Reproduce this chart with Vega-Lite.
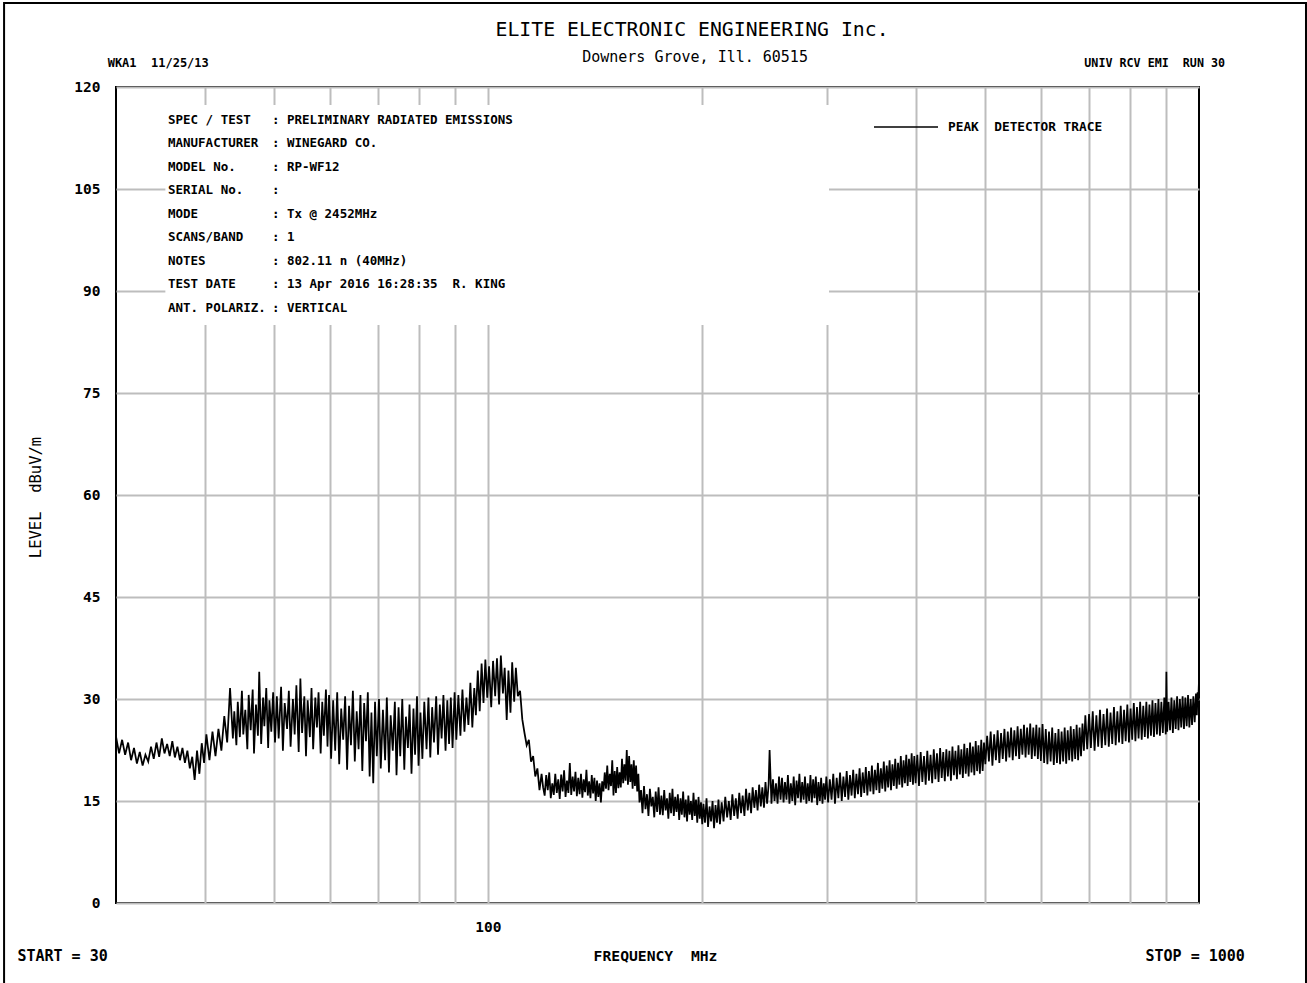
{
  "$schema": "https://vega.github.io/schema/vega-lite/v6.json",
  "width": 1083,
  "height": 816,
  "autosize": {"type": "none"},
  "padding": {"left": 116, "top": 87, "right": 108, "bottom": 80},
  "background": "white",
  "config": {
    "view": {"stroke": "black", "strokeWidth": 2},
    "font": "DejaVu Sans Mono"
  },
  "datasets": {
    "trace": [
      {"f":30.0,"v":24.5},{"f":30.3,"v":22.0},{"f":30.6,"v":24.0},{"f":30.9,"v":21.8},{"f":31.2,"v":23.6},{"f":31.5,"v":21.0},{"f":31.8,"v":22.8},{"f":32.1,"v":20.5},{"f":32.4,"v":22.2},{"f":32.7,"v":20.2},
      {"f":33.0,"v":21.8},{"f":33.3,"v":20.8},{"f":33.6,"v":23.0},{"f":33.9,"v":21.2},{"f":34.2,"v":23.6},{"f":34.5,"v":21.5},{"f":34.8,"v":24.2},{"f":35.1,"v":22.0},{"f":35.4,"v":23.4},{"f":35.7,"v":21.6},
      {"f":36.0,"v":23.8},{"f":36.3,"v":21.4},{"f":36.6,"v":23.0},{"f":36.9,"v":21.0},{"f":37.2,"v":22.8},{"f":37.5,"v":20.6},{"f":37.8,"v":22.4},{"f":38.1,"v":19.8},{"f":38.4,"v":21.5},{"f":38.7,"v":18.1},
      {"f":39.0,"v":22.4},{"f":39.3,"v":19.0},{"f":39.6,"v":23.5},{"f":39.9,"v":20.6},
      {"f":40.2,"v":24.8},{"f":40.6,"v":21.0},{"f":41.0,"v":25.2},{"f":41.4,"v":21.6},{"f":41.8,"v":25.6},{"f":42.2,"v":22.4},{"f":42.6,"v":27.5},{"f":43.0,"v":23.6},{"f":43.4,"v":31.6},{"f":43.8,"v":24.2},
      {"f":44.0,"v":28.2},{"f":44.3,"v":23.2},{"f":44.5,"v":29.6},{"f":44.8,"v":24.4},{"f":45.1,"v":31.2},{"f":45.3,"v":24.8},{"f":45.6,"v":28.4},{"f":45.9,"v":22.6},{"f":46.1,"v":30.6},{"f":46.4,"v":25.4},
      {"f":46.7,"v":31.4},{"f":46.9,"v":22.0},{"f":47.2,"v":29.2},{"f":47.5,"v":24.6},{"f":47.7,"v":34.0},{"f":48.0,"v":23.4},{"f":48.3,"v":30.2},{"f":48.5,"v":26.0},{"f":48.8,"v":31.6},{"f":49.1,"v":22.8},
      {"f":49.3,"v":29.8},{"f":49.6,"v":25.2},{"f":49.9,"v":31.0},
      {"f":50.2,"v":23.6},{"f":50.5,"v":30.4},{"f":50.8,"v":24.2},{"f":51.2,"v":31.8},{"f":51.5,"v":22.4},{"f":51.8,"v":29.4},{"f":52.2,"v":25.6},{"f":52.5,"v":31.2},{"f":52.8,"v":23.0},{"f":53.2,"v":30.0},
      {"f":53.5,"v":24.8},{"f":53.8,"v":32.0},{"f":54.2,"v":22.2},{"f":54.5,"v":33.0},{"f":54.8,"v":25.0},{"f":55.2,"v":30.4},{"f":55.5,"v":21.6},{"f":55.8,"v":29.8},{"f":56.2,"v":24.4},{"f":56.5,"v":31.6},
      {"f":56.8,"v":22.6},{"f":57.2,"v":30.2},{"f":57.5,"v":25.8},{"f":57.8,"v":31.0},{"f":58.2,"v":22.0},{"f":58.5,"v":29.6},{"f":58.8,"v":24.6},{"f":59.2,"v":31.4},{"f":59.5,"v":23.0},{"f":59.8,"v":30.6},
      {"f":60.2,"v":21.2},{"f":60.6,"v":29.8},{"f":61.0,"v":22.4},{"f":61.4,"v":31.0},{"f":61.8,"v":20.4},{"f":62.2,"v":28.6},{"f":62.6,"v":24.0},{"f":63.0,"v":30.4},{"f":63.4,"v":19.6},{"f":63.8,"v":29.0},
      {"f":64.2,"v":23.2},{"f":64.6,"v":31.2},{"f":65.0,"v":20.8},{"f":65.4,"v":28.2},{"f":65.8,"v":22.6},{"f":66.2,"v":30.6},{"f":66.6,"v":19.4},{"f":67.0,"v":29.4},{"f":67.4,"v":23.8},{"f":67.8,"v":31.0},
      {"f":68.2,"v":18.6},{"f":68.6,"v":28.0},{"f":69.0,"v":17.6},{"f":69.4,"v":29.6},{"f":69.8,"v":21.6},
      {"f":70.3,"v":30.0},{"f":70.7,"v":19.8},{"f":71.2,"v":28.4},{"f":71.7,"v":21.0},{"f":72.1,"v":30.2},{"f":72.6,"v":19.2},{"f":73.0,"v":27.6},{"f":73.5,"v":22.4},{"f":74.0,"v":29.6},{"f":74.4,"v":18.8},
      {"f":74.9,"v":28.8},{"f":75.3,"v":21.6},{"f":75.8,"v":30.0},{"f":76.3,"v":19.6},{"f":76.7,"v":27.4},{"f":77.2,"v":22.8},{"f":77.6,"v":29.2},{"f":78.1,"v":19.0},{"f":78.6,"v":28.6},{"f":79.0,"v":21.8},
      {"f":79.5,"v":30.4},{"f":79.9,"v":20.2},
      {"f":80.4,"v":28.0},{"f":80.9,"v":21.2},{"f":81.4,"v":29.6},{"f":82.0,"v":22.6},{"f":82.5,"v":30.2},{"f":83.0,"v":21.4},{"f":83.5,"v":28.8},{"f":84.0,"v":23.6},{"f":84.6,"v":30.4},{"f":85.1,"v":21.8},
      {"f":85.6,"v":29.2},{"f":86.1,"v":24.2},{"f":86.6,"v":30.6},{"f":87.2,"v":22.4},{"f":87.7,"v":29.8},{"f":88.2,"v":23.4},{"f":88.7,"v":30.2},{"f":89.2,"v":22.8},{"f":89.8,"v":31.0},
      {"f":90.3,"v":24.0},{"f":90.9,"v":30.6},{"f":91.5,"v":24.6},{"f":92.1,"v":31.4},{"f":92.7,"v":25.2},{"f":93.3,"v":30.2},{"f":93.9,"v":26.2},{"f":94.5,"v":32.4},{"f":95.1,"v":25.8},{"f":95.7,"v":31.6},
      {"f":96.2,"v":27.6},{"f":96.8,"v":34.2},{"f":97.4,"v":28.2},{"f":98.0,"v":35.2},{"f":98.6,"v":29.4},{"f":99.2,"v":35.8},{"f":99.8,"v":30.2},
      {"f":100.4,"v":34.8},{"f":101.1,"v":28.8},{"f":101.7,"v":35.6},{"f":102.4,"v":30.4},{"f":103.0,"v":36.0},{"f":103.7,"v":29.2},{"f":104.3,"v":36.4},{"f":105.0,"v":30.8},{"f":105.6,"v":34.6},{"f":106.3,"v":26.9},
      {"f":106.9,"v":34.2},{"f":107.6,"v":28.0},{"f":108.2,"v":35.4},{"f":108.9,"v":29.6},{"f":109.5,"v":34.6},{"f":110.2,"v":30.4},
      {"f":111.0,"v":31.2},{"f":111.8,"v":27.0},{"f":112.6,"v":25.0},{"f":113.4,"v":23.2},{"f":114.2,"v":24.0},{"f":115.0,"v":20.8},{"f":115.8,"v":21.6},{"f":116.6,"v":18.6},{"f":117.4,"v":19.8},{"f":118.2,"v":16.6},
      {"f":119.0,"v":19.0},
      {"f":119.6,"v":17.0},{"f":120.2,"v":15.8},{"f":120.8,"v":18.8},{"f":121.4,"v":16.6},{"f":122.0,"v":19.2},{"f":122.6,"v":15.4},{"f":123.2,"v":17.6},{"f":123.8,"v":15.9},{"f":124.4,"v":19.0},{"f":125.0,"v":16.2},
      {"f":125.6,"v":18.2},{"f":126.2,"v":15.3},{"f":126.8,"v":18.9},{"f":127.4,"v":16.4},{"f":128.0,"v":19.5},{"f":128.6,"v":15.6},{"f":129.2,"v":18.0},{"f":129.8,"v":16.2},{"f":130.4,"v":20.6},{"f":131.0,"v":15.9},
      {"f":131.6,"v":18.6},{"f":132.2,"v":16.4},{"f":132.8,"v":19.3},{"f":133.4,"v":15.7},{"f":134.0,"v":18.4},{"f":134.6,"v":16.0},{"f":135.2,"v":19.0},{"f":135.8,"v":15.5},{"f":136.4,"v":18.2},{"f":137.0,"v":16.3},
      {"f":137.6,"v":19.6},{"f":138.2,"v":15.8},{"f":138.8,"v":17.9},{"f":139.4,"v":15.4},{"f":140.0,"v":18.8},{"f":140.6,"v":16.1},{"f":141.2,"v":18.4},{"f":141.8,"v":15.0},{"f":142.4,"v":18.0},{"f":143.0,"v":15.6},
      {"f":143.6,"v":17.6},{"f":144.2,"v":14.8},{"f":144.8,"v":17.9},{"f":145.4,"v":16.4},{"f":146.0,"v":19.2},{"f":146.6,"v":16.8},{"f":147.2,"v":20.2},{"f":147.8,"v":16.6},{"f":148.4,"v":19.0},{"f":149.0,"v":17.2},
      {"f":149.6,"v":21.0},{"f":150.2,"v":15.8},{"f":150.8,"v":19.4},{"f":151.4,"v":16.2},{"f":152.0,"v":20.0},{"f":152.6,"v":16.9},{"f":153.2,"v":19.2},{"f":153.8,"v":17.0},{"f":154.4,"v":21.2},{"f":155.0,"v":17.6},
      {"f":155.6,"v":20.4},{"f":156.2,"v":18.0},{"f":156.8,"v":22.5},{"f":157.4,"v":17.4},{"f":158.0,"v":21.6},{"f":158.6,"v":17.8},{"f":159.2,"v":20.4},{"f":159.8,"v":16.8},{"f":160.4,"v":21.0},{"f":161.0,"v":17.2},
      {"f":161.6,"v":20.2},{"f":162.2,"v":16.4},{"f":162.8,"v":19.0},{"f":163.4,"v":14.8},
      {"f":164.2,"v":16.6},{"f":165.0,"v":13.2},{"f":165.8,"v":17.2},{"f":166.6,"v":13.8},{"f":167.4,"v":16.0},{"f":168.2,"v":12.8},{"f":169.0,"v":16.8},{"f":169.8,"v":14.2},{"f":170.6,"v":15.6},{"f":171.4,"v":12.6},
      {"f":172.2,"v":16.4},{"f":173.0,"v":13.4},{"f":173.8,"v":17.0},{"f":174.6,"v":13.0},{"f":175.4,"v":15.8},{"f":176.2,"v":12.9},{"f":177.0,"v":16.6},{"f":177.8,"v":13.6},{"f":178.6,"v":15.4},{"f":179.4,"v":12.4},
      {"f":180.2,"v":16.2},{"f":181.0,"v":13.2},{"f":181.8,"v":16.8},{"f":182.6,"v":12.8},{"f":183.4,"v":15.6},{"f":184.2,"v":13.4},{"f":185.0,"v":16.0},{"f":185.8,"v":12.2},{"f":186.6,"v":15.4},{"f":187.4,"v":13.0},
      {"f":188.2,"v":16.4},{"f":189.0,"v":12.6},{"f":189.8,"v":15.2},{"f":190.6,"v":12.0},{"f":191.4,"v":15.8},{"f":192.2,"v":13.0},{"f":193.0,"v":15.0},{"f":193.8,"v":12.2},{"f":194.6,"v":16.2},{"f":195.4,"v":12.8},
      {"f":196.2,"v":15.2},{"f":197.0,"v":11.8},{"f":197.8,"v":15.6},{"f":198.6,"v":12.4},{"f":199.4,"v":14.8},{"f":200.2,"v":11.6},
      {"f":201.0,"v":14.6},{"f":202.0,"v":11.8},{"f":203.0,"v":15.4},{"f":204.0,"v":11.2},{"f":205.0,"v":14.2},{"f":206.0,"v":12.0},{"f":207.0,"v":15.0},{"f":208.0,"v":11.0},{"f":209.0,"v":14.4},{"f":210.0,"v":11.8},
      {"f":211.0,"v":15.2},{"f":212.0,"v":11.6},
      {"f":213.2,"v":14.8},{"f":214.5,"v":12.0},{"f":215.7,"v":15.6},{"f":217.0,"v":12.6},{"f":218.2,"v":15.0},{"f":219.5,"v":12.2},{"f":220.7,"v":16.0},{"f":222.0,"v":12.8},{"f":223.2,"v":15.4},{"f":224.5,"v":12.4},
      {"f":225.7,"v":16.2},{"f":227.0,"v":13.2},{"f":228.2,"v":15.8},{"f":229.5,"v":12.8},{"f":230.7,"v":16.8},{"f":232.0,"v":13.6},{"f":233.2,"v":16.2},{"f":234.5,"v":13.2},{"f":235.7,"v":17.0},{"f":237.0,"v":14.0},
      {"f":238.2,"v":16.6},{"f":239.5,"v":13.6},{"f":240.7,"v":17.4},{"f":242.0,"v":14.2},{"f":243.2,"v":17.0},{"f":244.5,"v":14.0},{"f":245.7,"v":17.8},{"f":247.0,"v":14.6},{"f":248.2,"v":17.4},{"f":249.0,"v":22.5},
      {"f":250.5,"v":14.6},{"f":251.7,"v":18.2},{"f":253.0,"v":15.0},{"f":254.2,"v":17.6},{"f":255.5,"v":14.6},{"f":256.7,"v":18.6},{"f":258.0,"v":15.2},
      {"f":259.2,"v":18.4},{"f":260.5,"v":14.8},{"f":261.7,"v":17.8},{"f":263.0,"v":15.2},{"f":264.2,"v":18.8},{"f":265.5,"v":14.6},{"f":266.7,"v":17.6},{"f":268.0,"v":15.0},{"f":269.2,"v":18.6},{"f":270.5,"v":14.4},
      {"f":271.7,"v":18.0},{"f":273.0,"v":15.4},{"f":274.2,"v":19.0},{"f":275.5,"v":14.8},{"f":276.7,"v":17.8},{"f":278.0,"v":15.2},{"f":279.2,"v":18.6},{"f":280.5,"v":14.6},{"f":281.7,"v":17.6},{"f":283.0,"v":15.0},
      {"f":284.2,"v":18.8},{"f":285.5,"v":14.8},{"f":286.7,"v":18.2},{"f":288.0,"v":15.4},{"f":289.2,"v":18.6},{"f":290.5,"v":14.4},{"f":291.7,"v":17.8},{"f":293.0,"v":15.0},{"f":294.2,"v":18.4},{"f":295.5,"v":14.6},
      {"f":296.7,"v":17.6},{"f":298.0,"v":15.2},{"f":299.2,"v":18.6},
      {"f":300.9,"v":14.8},{"f":302.6,"v":18.2},{"f":304.3,"v":15.2},{"f":306.0,"v":19.0},{"f":307.7,"v":14.6},{"f":309.4,"v":18.4},{"f":311.1,"v":15.4},{"f":312.8,"v":19.2},{"f":314.5,"v":15.0},{"f":316.2,"v":18.6},
      {"f":317.9,"v":15.6},{"f":319.6,"v":19.4},{"f":321.3,"v":15.2},{"f":323.0,"v":18.8},{"f":324.7,"v":15.8},{"f":326.4,"v":19.6},{"f":328.1,"v":15.4},{"f":329.8,"v":19.0},{"f":331.5,"v":16.0},{"f":333.2,"v":19.8},
      {"f":334.9,"v":15.6},{"f":336.6,"v":19.2},{"f":338.3,"v":16.2},{"f":340.0,"v":20.0},{"f":341.7,"v":15.8},{"f":343.4,"v":19.4},{"f":345.1,"v":16.4},{"f":346.8,"v":20.2},{"f":348.5,"v":16.0},{"f":350.2,"v":19.6},
      {"f":351.9,"v":16.6},{"f":353.6,"v":20.6},{"f":355.3,"v":16.2},{"f":357.0,"v":19.8},{"f":358.7,"v":16.8},{"f":360.4,"v":20.8},{"f":362.1,"v":16.4},{"f":363.8,"v":20.2},{"f":365.5,"v":17.0},{"f":367.2,"v":21.0},
      {"f":368.9,"v":16.6},{"f":370.6,"v":20.4},{"f":372.3,"v":17.2},{"f":374.0,"v":21.2},{"f":375.7,"v":16.8},{"f":377.4,"v":20.6},{"f":379.1,"v":17.4},{"f":380.8,"v":21.6},{"f":382.5,"v":17.0},{"f":384.2,"v":21.0},
      {"f":385.9,"v":17.6},{"f":387.6,"v":21.8},{"f":389.3,"v":17.2},{"f":391.0,"v":21.2},{"f":392.7,"v":17.8},{"f":394.4,"v":22.0},{"f":396.1,"v":17.4},{"f":397.8,"v":21.6},{"f":399.5,"v":17.6},
      {"f":401.7,"v":21.8},{"f":403.9,"v":17.2},{"f":406.1,"v":22.2},{"f":408.3,"v":17.8},{"f":410.5,"v":21.6},{"f":412.7,"v":17.4},{"f":414.9,"v":22.4},{"f":417.1,"v":18.0},{"f":419.3,"v":21.8},{"f":421.5,"v":17.6},
      {"f":423.7,"v":22.6},{"f":425.9,"v":18.2},{"f":428.1,"v":22.0},{"f":430.3,"v":17.8},{"f":432.5,"v":22.8},{"f":434.7,"v":18.4},{"f":436.9,"v":22.2},{"f":439.1,"v":17.9},{"f":441.3,"v":22.6},{"f":443.5,"v":18.6},
      {"f":445.7,"v":22.4},{"f":447.9,"v":18.0},{"f":450.1,"v":23.0},{"f":452.3,"v":18.8},{"f":454.5,"v":22.4},{"f":456.7,"v":18.2},{"f":458.9,"v":23.2},{"f":461.1,"v":18.9},{"f":463.3,"v":22.6},{"f":465.5,"v":18.4},
      {"f":467.7,"v":23.4},{"f":469.9,"v":19.0},{"f":472.1,"v":22.8},{"f":474.3,"v":18.6},{"f":476.5,"v":23.6},{"f":478.7,"v":19.2},{"f":480.9,"v":23.0},{"f":483.1,"v":18.8},{"f":485.3,"v":23.8},{"f":487.5,"v":19.4},
      {"f":489.7,"v":23.2},{"f":491.9,"v":19.0},{"f":494.1,"v":24.0},{"f":496.3,"v":19.4},{"f":498.5,"v":23.6},
      {"f":500.7,"v":20.4},{"f":503.6,"v":24.6},{"f":506.5,"v":20.8},{"f":509.4,"v":25.2},{"f":512.3,"v":20.2},{"f":515.2,"v":24.8},{"f":518.1,"v":21.0},{"f":521.0,"v":25.4},{"f":523.9,"v":20.6},{"f":526.8,"v":25.0},
      {"f":529.7,"v":21.2},{"f":532.6,"v":25.6},{"f":535.5,"v":20.8},{"f":538.4,"v":25.2},{"f":541.3,"v":21.4},{"f":544.2,"v":25.8},{"f":547.1,"v":21.0},{"f":550.0,"v":25.4},{"f":552.9,"v":21.6},{"f":555.8,"v":26.0},
      {"f":558.7,"v":21.2},{"f":561.6,"v":25.6},{"f":564.5,"v":21.8},{"f":567.4,"v":26.2},{"f":570.3,"v":21.4},{"f":573.2,"v":25.8},{"f":576.1,"v":21.8},{"f":579.0,"v":26.4},{"f":581.9,"v":21.2},{"f":584.8,"v":25.8},
      {"f":587.7,"v":21.6},{"f":590.6,"v":26.2},{"f":593.5,"v":21.2},{"f":596.4,"v":25.8},{"f":599.3,"v":20.9},
      {"f":602.5,"v":26.3},{"f":605.7,"v":20.6},{"f":608.9,"v":25.6},{"f":612.1,"v":20.4},{"f":615.3,"v":25.2},{"f":618.5,"v":20.8},{"f":621.7,"v":25.8},{"f":624.9,"v":20.3},{"f":628.1,"v":25.0},{"f":631.3,"v":20.6},
      {"f":634.5,"v":25.6},{"f":637.7,"v":20.4},{"f":640.9,"v":25.2},{"f":644.1,"v":20.8},{"f":647.3,"v":25.8},{"f":650.5,"v":20.5},{"f":653.7,"v":25.4},{"f":656.9,"v":21.0},{"f":660.1,"v":26.0},{"f":663.3,"v":20.8},
      {"f":666.5,"v":25.6},{"f":669.7,"v":21.2},{"f":672.9,"v":26.2},{"f":676.1,"v":21.0},{"f":679.3,"v":25.8},{"f":682.5,"v":21.6},{"f":685.7,"v":26.4},{"f":688.9,"v":22.4},
      {"f":692.1,"v":27.6},{"f":696.3,"v":22.6},{"f":700.5,"v":27.8},{"f":704.7,"v":22.8},{"f":708.9,"v":28.2},{"f":713.1,"v":22.4},{"f":717.3,"v":27.6},{"f":721.5,"v":23.0},{"f":725.7,"v":28.4},{"f":729.9,"v":22.8},
      {"f":734.1,"v":27.8},{"f":738.3,"v":23.2},{"f":742.5,"v":28.6},{"f":746.7,"v":23.0},{"f":750.9,"v":28.0},{"f":755.1,"v":23.4},{"f":759.3,"v":28.8},{"f":763.5,"v":23.2},{"f":767.7,"v":28.2},{"f":771.9,"v":23.6},
      {"f":776.1,"v":29.0},{"f":780.3,"v":23.4},{"f":784.5,"v":28.4},{"f":788.7,"v":23.8},{"f":792.9,"v":29.2},{"f":797.1,"v":23.6},{"f":801.3,"v":28.6},{"f":805.5,"v":24.0},{"f":809.7,"v":29.4},{"f":813.9,"v":23.8},
      {"f":818.1,"v":28.8},{"f":822.3,"v":24.2},{"f":826.5,"v":29.6},{"f":830.7,"v":24.0},{"f":834.9,"v":29.0},{"f":839.1,"v":24.4},{"f":843.3,"v":29.6},{"f":847.5,"v":24.2},{"f":851.7,"v":29.2},{"f":855.9,"v":24.6},
      {"f":860.1,"v":29.8},{"f":864.3,"v":24.4},{"f":868.5,"v":29.4},{"f":872.7,"v":24.8},{"f":876.9,"v":30.0},{"f":881.1,"v":24.6},{"f":885.3,"v":29.6},{"f":889.5,"v":25.0},{"f":893.7,"v":30.2},{"f":897.9,"v":24.8},
      {"f":899.8,"v":34.0},{"f":902.1,"v":25.2},{"f":906.3,"v":29.6},{"f":910.5,"v":25.4},{"f":914.7,"v":30.2},{"f":918.9,"v":25.0},{"f":923.1,"v":29.8},{"f":927.3,"v":25.6},{"f":931.5,"v":30.4},{"f":935.7,"v":25.4},
      {"f":939.9,"v":30.0},{"f":944.1,"v":25.8},{"f":948.3,"v":30.4},{"f":952.5,"v":25.6},{"f":956.7,"v":30.2},{"f":960.9,"v":26.0},{"f":965.1,"v":30.6},{"f":969.3,"v":25.8},{"f":973.5,"v":30.0},{"f":977.7,"v":26.2},
      {"f":981.9,"v":30.4},{"f":986.1,"v":26.6},{"f":990.3,"v":30.8},{"f":993.0,"v":27.6},{"f":995.5,"v":31.0},{"f":997.8,"v":29.8},{"f":1000.0,"v":32.8}
    ]
  },
  "layer": [
    {
      "data": {"values": [{}]},
      "mark": {"type": "rect", "fill": "white", "stroke": null},
      "encoding": {
        "x": {"datum": 35.2, "type": "quantitative", "scale": {"type": "log", "domain": [30, 1000], "nice": false}},
        "x2": {"datum": 301.8},
        "y": {"datum": 117.35, "type": "quantitative", "scale": {"domain": [0, 120], "nice": false}},
        "y2": {"datum": 85}
      }
    },
    {
      "data": {"name": "trace"},
      "mark": {"type": "line", "strokeWidth": 1.75, "clip": true},
      "encoding": {
        "x": {
          "field": "f", "type": "quantitative",
          "scale": {"type": "log", "domain": [30, 1000], "nice": false},
          "axis": {
            "values": [40, 50, 60, 70, 80, 90, 100, 200, 300, 400, 500, 600, 700, 800, 900],
            "labelExpr": "datum.value == 100 ? '100' : ''",
            "grid": true, "gridColor": "#bdbdbd", "gridWidth": 2,
            "ticks": false, "domain": false,
            "labelFont": "DejaVu Sans Mono", "labelFontSize": 14.5, "labelFontWeight": "bold", "labelColor": "black", "labelPadding": 17, "labelFlush": false,
            "title": "FREQUENCY\u00a0 MHz", "titleFont": "DejaVu Sans Mono", "titleFontSize": 14.7, "titleFontWeight": "bold", "titleColor": "black",
            "titleX": 539, "titleY": 53, "titleBaseline": "middle", "titleAlign": "center"
          }
        },
        "y": {
          "field": "v", "type": "quantitative",
          "scale": {"domain": [0, 120], "nice": false},
          "axis": {
            "values": [0, 15, 30, 45, 60, 75, 90, 105, 120],
            "grid": true, "gridColor": "#bdbdbd", "gridWidth": 2,
            "ticks": false, "domain": false,
            "labelFont": "DejaVu Sans Mono", "labelFontSize": 14.5, "labelFontWeight": "bold", "labelColor": "black", "labelPadding": 16,
            "title": "LEVEL\u00a0 dBuV/m", "titleFont": "DejaVu Sans Mono", "titleFontSize": 15.5, "titleFontWeight": "normal", "titleColor": "black",
            "titleX": -81, "titleY": 410, "titleAngle": -90, "titleAlign": "center", "titleBaseline": "middle"
          }
        },
        "color": {
          "datum": "PEAK\u00a0 DETECTOR TRACE", "type": "nominal",
          "scale": {"range": ["black"]},
          "legend": {
            "orient": "none", "legendX": 757, "legendY": 7, "title": null, "padding": 0,
            "symbolType": "stroke", "symbolSize": 4096, "symbolStrokeWidth": 1.5, "symbolStrokeColor": "black",
            "labelFont": "DejaVu Sans Mono", "labelFontSize": 12.8, "labelFontWeight": "bold", "labelColor": "black", "labelOffset": 9, "labelLimit": 400
          }
        }
      }
    },
    {
      "data": {"values": [{}]},
      "mark": {"type": "text", "align": "center", "baseline": "middle", "font": "DejaVu Sans Mono", "fontSize": 19.8, "fontWeight": "normal", "color": "black", "text": "ELITE ELECTRONIC ENGINEERING Inc."},
      "encoding": {
        "x": {"datum": 193.7, "type": "quantitative", "scale": {"type": "log", "domain": [30, 1000], "nice": false}},
        "y": {"datum": 128.4, "type": "quantitative", "scale": {"domain": [0, 120], "nice": false}}
      }
    },
    {
      "data": {"values": [{}]},
      "mark": {"type": "text", "align": "center", "baseline": "middle", "font": "DejaVu Sans Mono", "fontSize": 15, "fontWeight": "normal", "color": "black", "text": "Downers Grove, Ill. 60515"},
      "encoding": {
        "x": {"datum": 195.6, "type": "quantitative", "scale": {"type": "log", "domain": [30, 1000], "nice": false}},
        "y": {"datum": 124.4, "type": "quantitative", "scale": {"domain": [0, 120], "nice": false}}
      }
    },
    {
      "data": {"values": [{}]},
      "mark": {"type": "text", "align": "left", "baseline": "top", "font": "DejaVu Sans Mono", "fontSize": 12.5, "fontWeight": "bold", "color": "black", "lineHeight": 23.5,
        "text": ["SPEC / TEST", "MANUFACTURER", "MODEL No.", "SERIAL No.", "MODE", "SCANS/BAND", "NOTES", "TEST DATE", "ANT. POLARIZ."]},
      "encoding": {
        "x": {"datum": 35.5, "type": "quantitative", "scale": {"type": "log", "domain": [30, 1000], "nice": false}},
        "y": {"datum": 116.1, "type": "quantitative", "scale": {"domain": [0, 120], "nice": false}}
      }
    },
    {
      "data": {"values": [{}]},
      "mark": {"type": "text", "align": "left", "baseline": "top", "font": "DejaVu Sans Mono", "fontSize": 12.5, "fontWeight": "bold", "color": "black", "lineHeight": 23.5,
        "text": [": PRELIMINARY RADIATED EMISSIONS", ": WINEGARD CO.", ": RP-WF12", ":", ": Tx @ 2452MHz", ": 1", ": 802.11 n (40MHz)", ": 13 Apr 2016 16:28:35\u00a0 R. KING", ": VERTICAL"]},
      "encoding": {
        "x": {"datum": 49.7, "type": "quantitative", "scale": {"type": "log", "domain": [30, 1000], "nice": false}},
        "y": {"datum": 116.1, "type": "quantitative", "scale": {"domain": [0, 120], "nice": false}}
      }
    },
    {
      "data": {"values": [{}]},
      "mark": {"type": "text", "align": "left", "baseline": "middle", "font": "DejaVu Sans Mono", "fontSize": 12, "fontWeight": "bold", "color": "black", "text": "WKA1\u00a0 11/25/13"},
      "encoding": {
        "x": {"datum": 29.2, "type": "quantitative", "scale": {"type": "log", "domain": [30, 1000], "nice": false}},
        "y": {"datum": 123.5, "type": "quantitative", "scale": {"domain": [0, 120], "nice": false}}
      }
    },
    {
      "data": {"values": [{}]},
      "mark": {"type": "text", "align": "right", "baseline": "middle", "font": "DejaVu Sans Mono", "fontSize": 11.7, "fontWeight": "bold", "color": "black", "text": "UNIV RCV EMI\u00a0 RUN 30"},
      "encoding": {
        "x": {"datum": 1088, "type": "quantitative", "scale": {"type": "log", "domain": [30, 1000], "nice": false}},
        "y": {"datum": 123.5, "type": "quantitative", "scale": {"domain": [0, 120], "nice": false}}
      }
    },
    {
      "data": {"values": [{}]},
      "mark": {"type": "text", "align": "left", "baseline": "middle", "font": "DejaVu Sans Mono", "fontSize": 15, "fontWeight": "bold", "color": "black", "text": "START = 30"},
      "encoding": {
        "x": {"datum": 21.8, "type": "quantitative", "scale": {"type": "log", "domain": [30, 1000], "nice": false}},
        "y": {"datum": -7.79, "type": "quantitative", "scale": {"domain": [0, 120], "nice": false}}
      }
    },
    {
      "data": {"values": [{}]},
      "mark": {"type": "text", "align": "right", "baseline": "middle", "font": "DejaVu Sans Mono", "fontSize": 15, "fontWeight": "bold", "color": "black", "text": "STOP = 1000"},
      "encoding": {
        "x": {"datum": 1160, "type": "quantitative", "scale": {"type": "log", "domain": [30, 1000], "nice": false}},
        "y": {"datum": -7.79, "type": "quantitative", "scale": {"domain": [0, 120], "nice": false}}
      }
    },
    {
      "data": {"values": [{}]},
      "mark": {"type": "rect", "fill": null, "fillOpacity": 0, "stroke": "black", "strokeWidth": 2, "clip": false},
      "encoding": {
        "x": {"datum": 20.88, "type": "quantitative", "scale": {"type": "log", "domain": [30, 1000], "nice": false}},
        "x2": {"datum": 1414},
        "y": {"datum": 132.35, "type": "quantitative", "scale": {"domain": [0, 120], "nice": false}},
        "y2": {"datum": -12.8}
      }
    }
  ]
}
